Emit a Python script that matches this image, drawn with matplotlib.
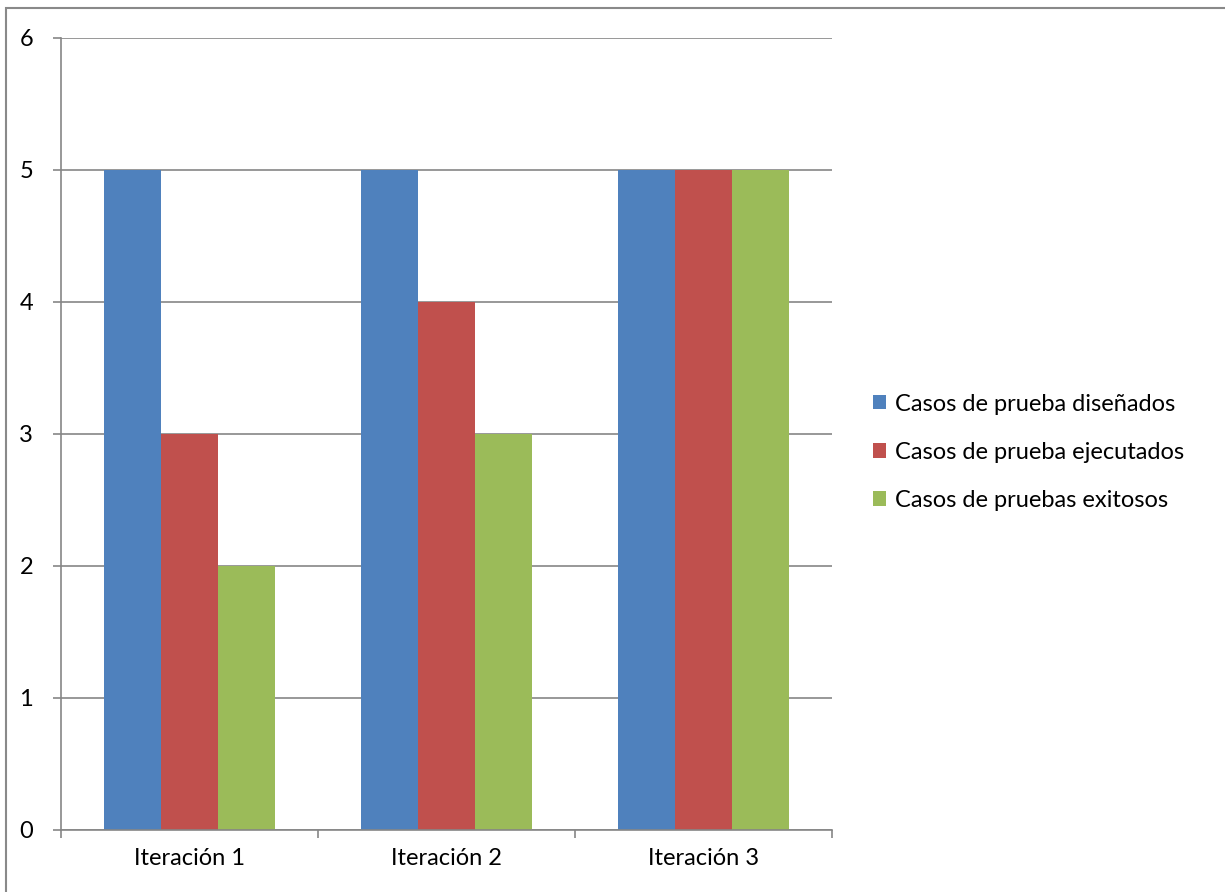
import numpy as np
import matplotlib.pyplot as plt
from matplotlib.patches import Rectangle

# data
categorias = ["Iteración 1", "Iteración 2", "Iteración 3"]
disenados = [5, 5, 5]
ejecutados = [3, 4, 5]
exitosos = [2, 3, 5]
series = ["Casos de prueba diseñados", "Casos de prueba ejecutados", "Casos de pruebas exitosos"]
colores = ["#4F81BD", "#C0504D", "#9BBB59"]

plt.rcParams['font.family'] = ['Lato', 'DejaVu Sans']

fig = plt.figure(figsize=(12.25, 8.92), dpi=100)
ax = fig.add_axes([61/1225, 62/892, 771/1225, 792/892])

x = np.arange(len(categorias))
w = 0.222
for i, (vals, nombre, c) in enumerate(zip([disenados, ejecutados, exitosos], series, colores)):
    ax.bar(x + (i - 1) * w, vals, w, color=c, label=nombre, zorder=2)

gris = "#868686"
ax.set_xlim(-0.5, 2.5)
ax.set_ylim(0, 6)
ax.set_yticks(range(7))
ax.yaxis.grid(True, color=gris, linewidth=1.2, zorder=0)
ax.set_xticks(x)
ax.set_xticklabels(categorias, fontsize=17)
ax.tick_params(axis='x', length=0, pad=13)
ax.set_xticks([-0.5, 0.5, 1.5, 2.5], minor=True)
ax.tick_params(axis='x', which='minor', length=6, color=gris, width=1.2)
ax.tick_params(axis='y', length=6, color=gris, width=1.2, labelsize=17, pad=14)
for s in ['top', 'right']:
    ax.spines[s].set_visible(False)
for s in ['left', 'bottom']:
    ax.spines[s].set_color(gris)
    ax.spines[s].set_linewidth(1.2)

fig.legend(loc='center left', bbox_to_anchor=(0.695, 0.493), frameon=False,
           fontsize=17, handlelength=0.55, handleheight=0.55, handletextpad=0.4,
           labelspacing=1.15)

# outer chart border
fig.patches.append(Rectangle((6/1225, -0.1), 1.2, 1.1 - 8/892, transform=fig.transFigure,
                             fill=False, edgecolor="#898989", linewidth=1.5))

fig.savefig("out.png", dpi=100)
